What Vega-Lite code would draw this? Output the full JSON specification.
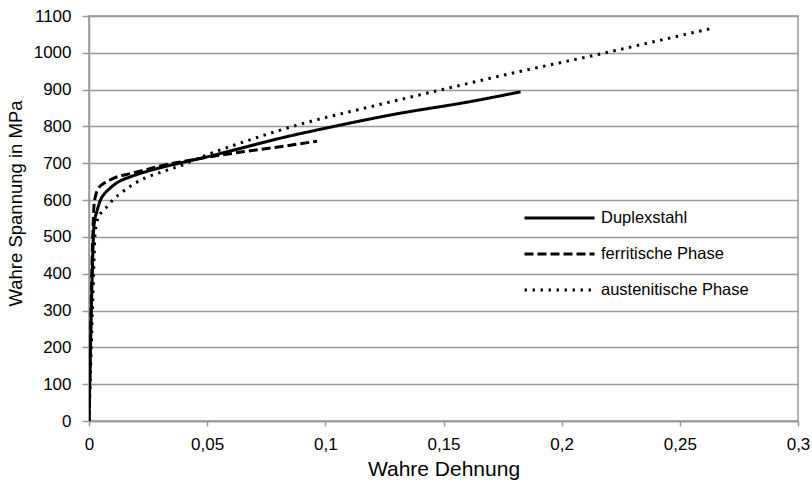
{
  "$schema": "https://vega.github.io/schema/vega-lite/v6.json",
  "width": 709,
  "height": 405,
  "autosize": {"type": "none"},
  "padding": {"left": 89, "top": 16, "right": 14, "bottom": 60},
  "background": "white",
  "config": {
    "font": "Liberation Sans",
    "view": {"stroke": "#999", "strokeWidth": 1.5}
  },
  "data": {
    "values": [
      {"series": "Duplexstahl", "strain": 0, "stress": 0},
      {"series": "Duplexstahl", "strain": 0.0016, "stress": 450},
      {"series": "Duplexstahl", "strain": 0.0019, "stress": 510},
      {"series": "Duplexstahl", "strain": 0.0024, "stress": 545},
      {"series": "Duplexstahl", "strain": 0.0033, "stress": 568},
      {"series": "Duplexstahl", "strain": 0.0047, "stress": 598},
      {"series": "Duplexstahl", "strain": 0.0065, "stress": 617},
      {"series": "Duplexstahl", "strain": 0.0085, "stress": 630},
      {"series": "Duplexstahl", "strain": 0.0103, "stress": 640},
      {"series": "Duplexstahl", "strain": 0.0135, "stress": 653},
      {"series": "Duplexstahl", "strain": 0.0174, "stress": 663},
      {"series": "Duplexstahl", "strain": 0.024, "stress": 677},
      {"series": "Duplexstahl", "strain": 0.0315, "stress": 690},
      {"series": "Duplexstahl", "strain": 0.04, "stress": 703},
      {"series": "Duplexstahl", "strain": 0.0496, "stress": 717},
      {"series": "Duplexstahl", "strain": 0.065, "stress": 742},
      {"series": "Duplexstahl", "strain": 0.0809, "stress": 768},
      {"series": "Duplexstahl", "strain": 0.1021, "stress": 798},
      {"series": "Duplexstahl", "strain": 0.13, "stress": 834},
      {"series": "Duplexstahl", "strain": 0.16, "stress": 866},
      {"series": "Duplexstahl", "strain": 0.1826, "stress": 894},
      {"series": "ferritische Phase", "strain": 0, "stress": 0},
      {"series": "ferritische Phase", "strain": 0.0017, "stress": 520},
      {"series": "ferritische Phase", "strain": 0.0021, "stress": 585},
      {"series": "ferritische Phase", "strain": 0.0028, "stress": 612},
      {"series": "ferritische Phase", "strain": 0.0039, "stress": 631},
      {"series": "ferritische Phase", "strain": 0.0055, "stress": 642},
      {"series": "ferritische Phase", "strain": 0.0075, "stress": 650},
      {"series": "ferritische Phase", "strain": 0.011, "stress": 661},
      {"series": "ferritische Phase", "strain": 0.0174, "stress": 672},
      {"series": "ferritische Phase", "strain": 0.025, "stress": 684},
      {"series": "ferritische Phase", "strain": 0.0315, "stress": 695},
      {"series": "ferritische Phase", "strain": 0.04, "stress": 705},
      {"series": "ferritische Phase", "strain": 0.0496, "stress": 716},
      {"series": "ferritische Phase", "strain": 0.065, "stress": 731},
      {"series": "ferritische Phase", "strain": 0.0809, "stress": 745},
      {"series": "ferritische Phase", "strain": 0.0965, "stress": 760},
      {"series": "austenitische Phase", "strain": 0, "stress": 0},
      {"series": "austenitische Phase", "strain": 0.0022, "stress": 450},
      {"series": "austenitische Phase", "strain": 0.0025, "stress": 505},
      {"series": "austenitische Phase", "strain": 0.003, "stress": 530},
      {"series": "austenitische Phase", "strain": 0.0039, "stress": 553},
      {"series": "austenitische Phase", "strain": 0.0055, "stress": 568},
      {"series": "austenitische Phase", "strain": 0.0075, "stress": 581},
      {"series": "austenitische Phase", "strain": 0.01, "stress": 600},
      {"series": "austenitische Phase", "strain": 0.0131, "stress": 617},
      {"series": "austenitische Phase", "strain": 0.018, "stress": 640},
      {"series": "austenitische Phase", "strain": 0.0244, "stress": 662},
      {"series": "austenitische Phase", "strain": 0.031, "stress": 677},
      {"series": "austenitische Phase", "strain": 0.0386, "stress": 693},
      {"series": "austenitische Phase", "strain": 0.0496, "stress": 722},
      {"series": "austenitische Phase", "strain": 0.065, "stress": 757},
      {"series": "austenitische Phase", "strain": 0.0809, "stress": 790},
      {"series": "austenitische Phase", "strain": 0.0894, "stress": 806},
      {"series": "austenitische Phase", "strain": 0.12, "stress": 855},
      {"series": "austenitische Phase", "strain": 0.15, "stress": 901},
      {"series": "austenitische Phase", "strain": 0.18, "stress": 946},
      {"series": "austenitische Phase", "strain": 0.21, "stress": 988},
      {"series": "austenitische Phase", "strain": 0.2631, "stress": 1066}
    ]
  },
  "mark": {"type": "line", "color": "black", "strokeWidth": 3, "interpolate": "monotone", "clip": true},
  "encoding": {
    "x": {
      "field": "strain",
      "type": "quantitative",
      "scale": {"domain": [0, 0.3], "nice": false, "zero": true},
      "axis": {
        "title": "Wahre Dehnung",
        "values": [0, 0.05, 0.1, 0.15, 0.2, 0.25, 0.3],
        "labelExpr": "replace(datum.value + '', '.', ',')",
        "grid": false,
        "domainColor": "#999",
        "domainWidth": 1.5,
        "tickColor": "#999",
        "tickWidth": 1.5,
        "tickSize": 5,
        "labelFontSize": 17,
        "labelColor": "#000",
        "labelPadding": 10,
        "labelFlush": false,
        "titleFontSize": 21,
        "titleFontWeight": "normal",
        "titleColor": "#000",
        "titleBaseline": "alphabetic",
        "titleY": 54
      }
    },
    "y": {
      "field": "stress",
      "type": "quantitative",
      "scale": {"domain": [0, 1100], "nice": false},
      "axis": {
        "title": "Wahre Spannung in MPa",
        "values": [0, 100, 200, 300, 400, 500, 600, 700, 800, 900, 1000, 1100],
        "format": "d",
        "grid": true,
        "gridColor": "#999",
        "gridWidth": 1.5,
        "domainColor": "#999",
        "domainWidth": 1.5,
        "tickColor": "#999",
        "tickWidth": 1.5,
        "tickSize": 7,
        "labelFontSize": 17,
        "labelColor": "#000",
        "labelPadding": 11,
        "labelFlush": false,
        "titleFontSize": 18.5,
        "titleFontWeight": "normal",
        "titleColor": "#000",
        "titleBaseline": "middle",
        "titleX": -74,
        "titleY": 187
      }
    },
    "strokeDash": {
      "field": "series",
      "type": "nominal",
      "scale": {
        "domain": ["Duplexstahl", "ferritische Phase", "austenitische Phase"],
        "range": [[1, 0], [9, 4], [2.5, 5.5]]
      },
      "legend": {
        "title": null,
        "orient": "none",
        "legendX": 434,
        "legendY": 184,
        "symbolType": "stroke",
        "symbolSize": 4900,
        "symbolStrokeWidth": 3,
        "symbolStrokeColor": "black",
        "labelFontSize": 16.5,
        "labelColor": "#000",
        "labelOffset": 5,
        "clipHeight": 36,
        "rowPadding": 0
      }
    }
  }
}
